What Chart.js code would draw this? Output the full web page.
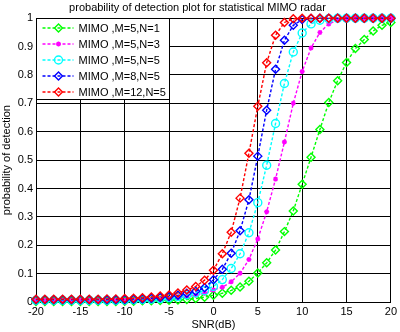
<!DOCTYPE html>
<html>
<head>
<meta charset="utf-8">
<script src="https://cdn.jsdelivr.net/npm/chart.js@4/dist/chart.umd.min.js"></script>
<style>
  html, body { margin: 0; padding: 0; background: #fff; }
  #wrap { width: 400px; height: 332px; }
</style>
</head>
<body>
<div id="wrap"><canvas id="pdChart" width="400" height="332"></canvas></div>
<script>
// SNR values (dB)
const snr = [-20, -19, -18, -17, -16, -15, -14, -13, -12, -11, -10, -9, -8, -7, -6, -5, -4, -3, -2, -1,
             0, 1, 2, 3, 4, 5, 6, 7, 8, 9, 10, 11, 12, 13, 14, 15, 16, 17, 18, 19, 20];

const pdM5N1 = [0.002, 0.002, 0.002, 0.002, 0.002, 0.002, 0.002, 0.002, 0.002, 0.002, 0.003, 0.003, 0.004, 0.004, 0.005, 0.006, 0.007, 0.009, 0.012, 0.017,
                0.024, 0.031, 0.041, 0.053, 0.073, 0.102, 0.138, 0.183, 0.248, 0.321, 0.415, 0.510, 0.608, 0.703, 0.780, 0.844, 0.893, 0.925, 0.955, 0.975, 0.985];
const pdM5N3 = [0.005, 0.005, 0.005, 0.005, 0.005, 0.005, 0.005, 0.005, 0.005, 0.005, 0.005, 0.006, 0.007, 0.008, 0.010, 0.012, 0.015, 0.019, 0.024, 0.031,
                0.042, 0.052, 0.071, 0.101, 0.150, 0.222, 0.318, 0.433, 0.564, 0.700, 0.812, 0.895, 0.950, 0.980, 0.994, 0.999, 1, 1, 1, 1, 1];
const pdM5N5 = [0.006, 0.006, 0.006, 0.006, 0.006, 0.006, 0.006, 0.006, 0.006, 0.006, 0.007, 0.008, 0.009, 0.010, 0.012, 0.015, 0.019, 0.025, 0.032, 0.040,
                0.055, 0.079, 0.118, 0.170, 0.244, 0.350, 0.482, 0.629, 0.770, 0.881, 0.948, 0.980, 0.993, 0.998, 1, 1, 1, 1, 1, 1, 1];
const pdM8N5 = [0.008, 0.008, 0.008, 0.008, 0.008, 0.008, 0.008, 0.008, 0.008, 0.008, 0.009, 0.010, 0.011, 0.013, 0.016, 0.019, 0.024, 0.031, 0.038, 0.050,
                0.078, 0.115, 0.172, 0.251, 0.360, 0.514, 0.676, 0.820, 0.922, 0.975, 0.995, 0.999, 1, 1, 1, 1, 1, 1, 1, 1, 1];
const pdM12N5 = [0.010, 0.010, 0.010, 0.010, 0.010, 0.010, 0.010, 0.010, 0.011, 0.011, 0.012, 0.013, 0.015, 0.018, 0.021, 0.025, 0.032, 0.042, 0.055, 0.077,
                 0.112, 0.170, 0.246, 0.366, 0.524, 0.690, 0.843, 0.940, 0.985, 0.998, 1, 1, 1, 1, 1, 1, 1, 1, 1, 1, 1];

const xTicks = [-20, -15, -10, -5, 0, 5, 10, 15, 20];
const yTicks = [0, 0.1, 0.2, 0.3, 0.4, 0.5, 0.6, 0.7, 0.8, 0.9, 1];

const FONT = 'Liberation Sans, Arial, sans-serif';

function series(label, values, color, style, radius, order) {
    return {
        label: label,
        data: values.map((v, i) => ({ x: snr[i], y: v })),
        borderColor: color,
        backgroundColor: color,
        borderWidth: 1.4,
        borderDash: [3, 2],
        pointStyle: style,
        pointRadius: radius,
        pointBorderColor: color,
        pointBackgroundColor: style === 'star' ? color : 'rgba(255,255,255,0)',
        pointBorderWidth: 1.4,
        tension: 0,
        clip: false,
        order: order
    };
}

// legend box drawn inside the plot, top-left corner
const innerLegend = {
    id: 'innerLegend',
    afterDraw(chart) {
        const ctx = chart.ctx;
        const area = chart.chartArea;
        const x0 = Math.round(area.left) + 0.5, y0 = Math.round(area.top) + 0.5;
        const w = 133, h = 81;
        ctx.save();
        ctx.fillStyle = '#fff';
        ctx.fillRect(x0, y0, w, h);
        ctx.strokeStyle = '#000';
        ctx.lineWidth = 1;
        ctx.strokeRect(x0, y0, w, h);
        ctx.font = '11px ' + FONT;
        ctx.textBaseline = 'middle';
        chart.data.datasets.forEach((ds, i) => {
            const y = y0 + 9.5 + i * 16;
            ctx.strokeStyle = ds.borderColor;
            ctx.lineWidth = 1.4;
            ctx.setLineDash([3, 2]);
            ctx.beginPath();
            ctx.moveTo(x0 + 6, y);
            ctx.lineTo(x0 + 37, y);
            ctx.stroke();
            ctx.setLineDash([]);
            ctx.fillStyle = ds.pointBackgroundColor;
            Chart.helpers.drawPoint(ctx, {
                pointStyle: ds.pointStyle,
                radius: ds.pointRadius,
                borderWidth: 1.4,
                rotation: 0
            }, x0 + 22, y);
            ctx.fillStyle = '#000';
            ctx.fillText(ds.label, x0 + 42, y + 0.5);
        });
        ctx.restore();
    }
};

const pdCtx = document.getElementById('pdChart').getContext('2d');
new Chart(pdCtx, {
    type: 'line',
    data: {
        datasets: [
            series('MIMO ,M=5,N=1', pdM5N1, '#00ff00', 'rectRot', 4, 5),
            series('MIMO ,M=5,N=3', pdM5N3, '#ff00ff', 'star', 2.5, 4),
            series('MIMO ,M=5,N=5', pdM5N5, '#00ffff', 'circle', 4, 3),
            series('MIMO ,M=8,N=5', pdM8N5, '#0000ff', 'rectRot', 4, 2),
            series('MIMO ,M=12,N=5', pdM12N5, '#ff0000', 'rectRot', 4, 1)
        ]
    },
    options: {
        responsive: false,
        animation: false,
        layout: { padding: { right: 5, left: 0, top: 0, bottom: 0 } },
        plugins: {
            legend: { display: false },
            tooltip: { enabled: false },
            title: {
                display: true,
                text: 'probability of detection plot for statistical MIMO radar',
                color: '#000',
                font: { family: FONT, size: 11, weight: 'normal' },
                padding: { top: 1, bottom: 4 }
            }
        },
        scales: {
            x: {
                type: 'linear',
                min: -20,
                max: 20,
                afterBuildTicks: axis => { axis.ticks = xTicks.map(v => ({ value: v })); },
                afterFit: axis => { axis.height = 30; },
                grid: { color: '#000', lineWidth: 1, drawTicks: false },
                border: { color: '#000', width: 1 },
                ticks: { color: '#000', font: { family: FONT, size: 11 }, padding: 3, maxRotation: 0 },
                title: {
                    display: true,
                    text: 'SNR(dB)',
                    color: '#000',
                    font: { family: FONT, size: 11 },
                    padding: { top: 0, bottom: 0 }
                }
            },
            y: {
                min: 0,
                max: 1,
                afterBuildTicks: axis => { axis.ticks = yTicks.map(v => ({ value: v })); },
                afterFit: axis => { axis.width = 36; },
                grid: { color: '#000', lineWidth: 1, drawTicks: false },
                border: { color: '#000', width: 1 },
                ticks: {
                    color: '#000',
                    font: { family: FONT, size: 11 },
                    padding: 3,
                    callback: v => String(v)
                },
                title: {
                    display: true,
                    text: 'probability of detection',
                    color: '#000',
                    font: { family: FONT, size: 11 },
                    padding: { top: 0, bottom: 0 }
                }
            }
        }
    },
    plugins: [innerLegend]
});
</script>
</body>
</html>
